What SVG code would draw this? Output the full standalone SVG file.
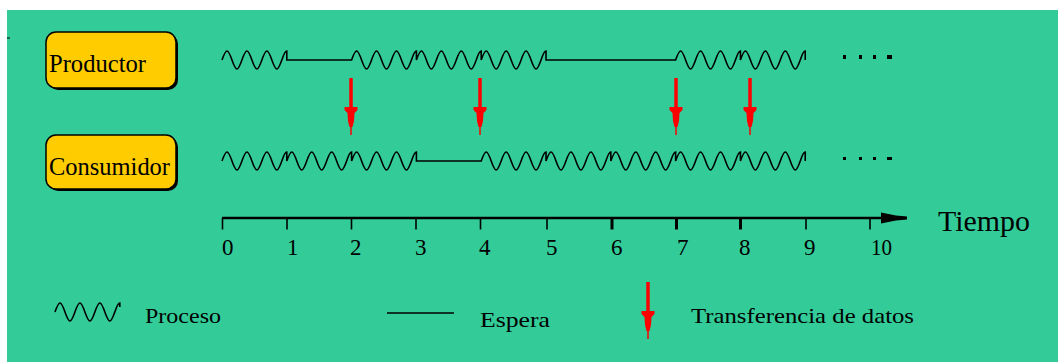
<svg xmlns="http://www.w3.org/2000/svg" xmlns:xlink="http://www.w3.org/1999/xlink" width="1058" height="362" viewBox="0 0 1058 362">
<style>
.bg{fill:#33CC99}
.box{fill:#FFCC00;stroke:#000;stroke-width:1.5}
.shadow{fill:#000}
.lbl{font-family:"Liberation Serif","Times New Roman",serif;fill:#000}
.wave{fill:none;stroke:#000;stroke-width:1.6;stroke-linejoin:miter}
.axis{stroke:#000;stroke-width:2.6;fill:none}
.tick{stroke:#000;stroke-width:1.6}
.tickb{stroke:#000;stroke-width:3}
.dot{fill:#000}
.red{stroke:#FF0000;fill:none}
.redf{fill:#FF0000}
</style>
<defs>
<g id="arr">
<line class="red" x1="0" y1="0" x2="0" y2="31" stroke-width="3.5"/>
<polygon class="redf" points="-6.5,29 6.5,29 6.5,32 3.5,35 3,43 1.5,49 -1.5,49 -3,43 -3.5,35 -6.5,32"/>
<line class="red" x1="0" y1="48" x2="0" y2="57" stroke-width="1.5"/>
</g>
</defs>
<rect x="0" y="0" width="1058" height="362" fill="#FFFFFF"/>
<rect class="bg" x="7" y="10" width="1051" height="352"/>
<line x1="7" y1="38" x2="10" y2="38" stroke="#000" stroke-width="1"/>

<g id="productor">
<rect class="shadow" x="48" y="34" width="130" height="56" rx="10"/>
<rect class="box" x="46" y="32" width="130" height="56" rx="10"/>
<text class="lbl" x="49" y="72" font-size="25" textLength="97" lengthAdjust="spacingAndGlyphs">Productor</text>
</g>
<g id="consumidor">
<rect class="shadow" x="48" y="137" width="130" height="54" rx="10"/>
<rect class="box" x="46" y="135" width="130" height="54" rx="10"/>
<text class="lbl" x="49" y="175" font-size="24.5" textLength="121" lengthAdjust="spacingAndGlyphs">Consumidor</text>
</g>

<g id="linea-productor">
<path class="wave" d="M222,60 c4.23,-12 5.74,-12 9.97,0 c4.23,12 5.74,12 9.97,0 c4.23,-12 5.74,-12 9.97,0 c4.23,12 5.74,12 9.97,0 c4.23,-12 5.74,-12 9.97,0 c4.23,12 5.74,12 9.97,0 c1.66,-4.71 2.99,-9 4.985,-9 v9 h64.8 c4.23,-12 5.74,-12 9.97,0 c4.23,12 5.74,12 9.97,0 c4.23,-12 5.74,-12 9.97,0 c4.23,12 5.74,12 9.97,0 c4.23,-12 5.74,-12 9.97,0 c4.23,12 5.74,12 9.97,0 c1.66,-4.71 2.99,-9 4.985,-9 v9 c4.23,-12 5.74,-12 9.97,0 c4.23,12 5.74,12 9.97,0 c4.23,-12 5.74,-12 9.97,0 c4.23,12 5.74,12 9.97,0 c4.23,-12 5.74,-12 9.97,0 c4.23,12 5.74,12 9.97,0 c1.66,-4.71 2.99,-9 4.985,-9 v9 c4.23,-12 5.74,-12 9.97,0 c4.23,12 5.74,12 9.97,0 c4.23,-12 5.74,-12 9.97,0 c4.23,12 5.74,12 9.97,0 c4.23,-12 5.74,-12 9.97,0 c4.23,12 5.74,12 9.97,0 c1.66,-4.71 2.99,-9 4.985,-9 v9 h129.6 c4.23,-12 5.74,-12 9.97,0 c4.23,12 5.74,12 9.97,0 c4.23,-12 5.74,-12 9.97,0 c4.23,12 5.74,12 9.97,0 c4.23,-12 5.74,-12 9.97,0 c4.23,12 5.74,12 9.97,0 c1.66,-4.71 2.99,-9 4.985,-9 v9 c4.23,-12 5.74,-12 9.97,0 c4.23,12 5.74,12 9.97,0 c4.23,-12 5.74,-12 9.97,0 c4.23,12 5.74,12 9.97,0 c4.23,-12 5.74,-12 9.97,0 c4.23,12 5.74,12 9.97,0 c1.66,-4.71 2.99,-9 4.985,-9 v9"/>
<rect class="dot" x="843" y="55" width="3" height="4"/>
<rect class="dot" x="859" y="55" width="3" height="4"/>
<rect class="dot" x="873" y="55" width="3" height="4"/>
<rect class="dot" x="887" y="55" width="5" height="4"/>
</g>

<g id="linea-consumidor">
<path class="wave" d="M222,161 c4.23,-12 5.74,-12 9.97,0 c4.23,12 5.74,12 9.97,0 c4.23,-12 5.74,-12 9.97,0 c4.23,12 5.74,12 9.97,0 c4.23,-12 5.74,-12 9.97,0 c4.23,12 5.74,12 9.97,0 c1.66,-4.71 2.99,-9 4.985,-9 v9 c4.23,-12 5.74,-12 9.97,0 c4.23,12 5.74,12 9.97,0 c4.23,-12 5.74,-12 9.97,0 c4.23,12 5.74,12 9.97,0 c4.23,-12 5.74,-12 9.97,0 c4.23,12 5.74,12 9.97,0 c1.66,-4.71 2.99,-9 4.985,-9 v9 c4.23,-12 5.74,-12 9.97,0 c4.23,12 5.74,12 9.97,0 c4.23,-12 5.74,-12 9.97,0 c4.23,12 5.74,12 9.97,0 c4.23,-12 5.74,-12 9.97,0 c4.23,12 5.74,12 9.97,0 c1.66,-4.71 2.99,-9 4.985,-9 v9 h64.8 c4.23,-12 5.74,-12 9.97,0 c4.23,12 5.74,12 9.97,0 c4.23,-12 5.74,-12 9.97,0 c4.23,12 5.74,12 9.97,0 c4.23,-12 5.74,-12 9.97,0 c4.23,12 5.74,12 9.97,0 c1.66,-4.71 2.99,-9 4.985,-9 v9 c4.23,-12 5.74,-12 9.97,0 c4.23,12 5.74,12 9.97,0 c4.23,-12 5.74,-12 9.97,0 c4.23,12 5.74,12 9.97,0 c4.23,-12 5.74,-12 9.97,0 c4.23,12 5.74,12 9.97,0 c1.66,-4.71 2.99,-9 4.985,-9 v9 c4.23,-12 5.74,-12 9.97,0 c4.23,12 5.74,12 9.97,0 c4.23,-12 5.74,-12 9.97,0 c4.23,12 5.74,12 9.97,0 c4.23,-12 5.74,-12 9.97,0 c4.23,12 5.74,12 9.97,0 c1.66,-4.71 2.99,-9 4.985,-9 v9 c4.23,-12 5.74,-12 9.97,0 c4.23,12 5.74,12 9.97,0 c4.23,-12 5.74,-12 9.97,0 c4.23,12 5.74,12 9.97,0 c4.23,-12 5.74,-12 9.97,0 c4.23,12 5.74,12 9.97,0 c1.66,-4.71 2.99,-9 4.985,-9 v9 c4.23,-12 5.74,-12 9.97,0 c4.23,12 5.74,12 9.97,0 c4.23,-12 5.74,-12 9.97,0 c4.23,12 5.74,12 9.97,0 c4.23,-12 5.74,-12 9.97,0 c4.23,12 5.74,12 9.97,0 c1.66,-4.71 2.99,-9 4.985,-9 v9"/>
<rect class="dot" x="843" y="157" width="3" height="3"/>
<rect class="dot" x="859" y="157" width="3" height="3"/>
<rect class="dot" x="873" y="157" width="3" height="3"/>
<rect class="dot" x="887" y="157" width="5" height="3"/>
</g>

<g id="connectors">
<use xlink:href="#arr" href="#arr" x="351" y="78"/>
<use xlink:href="#arr" href="#arr" x="480" y="78"/>
<use xlink:href="#arr" href="#arr" x="676" y="78"/>
<use xlink:href="#arr" href="#arr" x="750" y="78"/>
</g>

<g id="eje-tiempo">
<line class="axis" x1="222" y1="218" x2="905" y2="218"/>
<polygon points="881,212.5 896,215.5 907,216.5 907,219.5 896,220.5 881,223.5" fill="#000"/>
<line class="tick" x1="222.5" y1="218" x2="222.5" y2="229.5"/>
<line class="tick" x1="287" y1="218" x2="287" y2="229.5"/>
<line class="tick" x1="351.5" y1="218" x2="351.5" y2="229.5"/>
<line class="tick" x1="416" y1="218" x2="416" y2="229.5"/>
<line class="tick" x1="480.5" y1="218" x2="480.5" y2="229.5"/>
<line class="tick" x1="547" y1="218" x2="547" y2="229.5"/>
<line class="tickb" x1="612" y1="218" x2="612" y2="229.5"/>
<line class="tickb" x1="676.5" y1="218" x2="676.5" y2="229.5"/>
<line class="tickb" x1="740.5" y1="218" x2="740.5" y2="229.5"/>
<line class="tick" x1="806" y1="218" x2="806" y2="229.5"/>
<line class="tick" x1="870" y1="218" x2="870" y2="229.5"/>
<g class="lbl" font-size="23">
<text x="222" y="255">0</text>
<text x="287" y="255">1</text>
<text x="350" y="255">2</text>
<text x="415" y="255">3</text>
<text x="479" y="255">4</text>
<text x="546" y="255">5</text>
<text x="611" y="255">6</text>
<text x="677" y="255">7</text>
<text x="739" y="255">8</text>
<text x="804" y="255">9</text>
<text x="871" y="255" textLength="21" lengthAdjust="spacingAndGlyphs">10</text>
</g>
<text class="lbl" x="938" y="231" font-size="29" textLength="92" lengthAdjust="spacingAndGlyphs">Tiempo</text>
</g>

<g id="leyenda">
<path class="wave" d="M55,312 c4.23,-12 5.74,-12 9.97,0 c4.23,12 5.74,12 9.97,0 c4.23,-12 5.74,-12 9.97,0 c4.23,12 5.74,12 9.97,0 c4.23,-12 5.74,-12 9.97,0 c4.23,12 5.74,12 9.97,0 c1.66,-4.71 2.99,-9 4.985,-9 v4"/>
<text class="lbl" x="145" y="323" font-size="22" textLength="76" lengthAdjust="spacingAndGlyphs">Proceso</text>
<line x1="387" y1="313" x2="454" y2="313" stroke="#000" stroke-width="1.5"/>
<text class="lbl" x="480" y="327" font-size="22" textLength="70" lengthAdjust="spacingAndGlyphs">Espera</text>
<use xlink:href="#arr" href="#arr" x="648" y="282"/>
<text class="lbl" x="691" y="323" font-size="22" textLength="223" lengthAdjust="spacingAndGlyphs">Transferencia de datos</text>
</g>
</svg>
